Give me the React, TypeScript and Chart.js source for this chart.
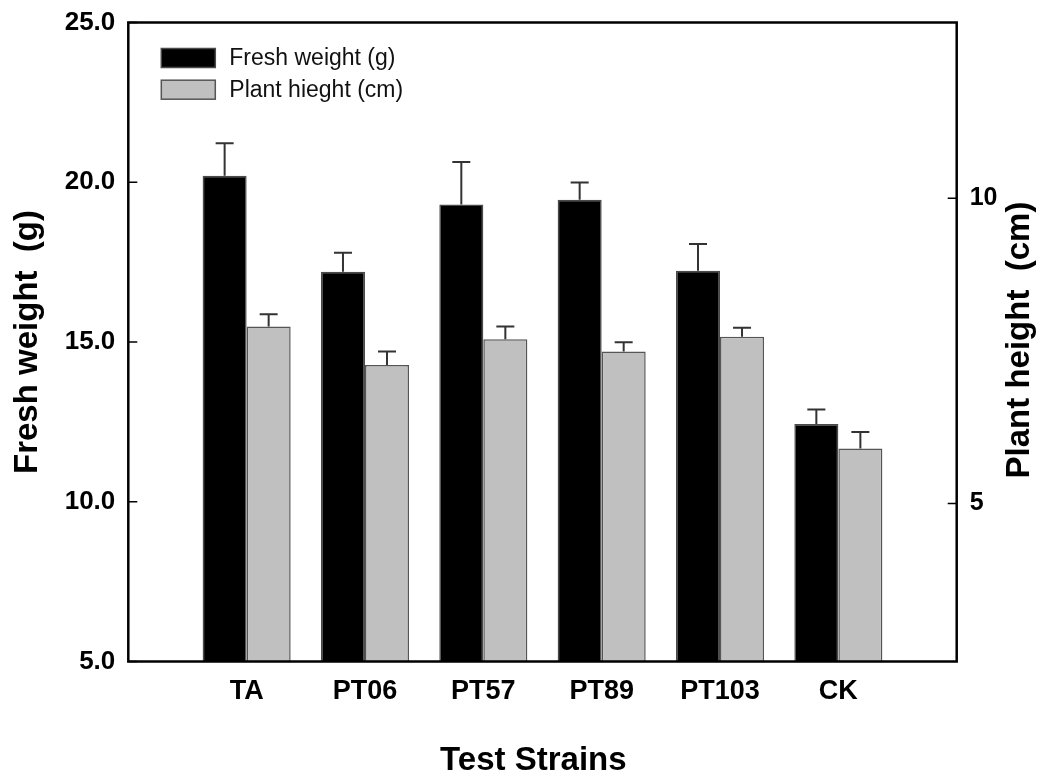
import React, { useEffect, useRef } from "react";
import { Chart, registerables } from "chart.js";

Chart.register(...registerables);

const FONT = "'Liberation Sans', Arial, Helvetica, sans-serif";

const categories = ["TA", "PT06", "PT57", "PT89", "PT103", "CK"];
const freshWeight = [20.2, 17.2, 19.3, 19.45, 17.23, 12.43];
const freshWeightErr = [1.02, 0.59, 1.33, 0.54, 0.84, 0.46];
const plantHeight = [7.9, 7.27, 7.69, 7.49, 7.73, 5.9];
const plantHeightErr = [0.2, 0.22, 0.21, 0.15, 0.15, 0.27];
const leftTicks = [5, 10, 15, 20, 25];
const rightTicks = [5, 10];
const seriesLabels = ["Fresh weight (g)", "Plant hieght (cm)"];
const seriesColors = ["#000000", "#c0c0c0"];
const seriesBorders = ["#4a4a4a", "#555555"];
const rightTitle = "Plant height  (cm)";

const errorBarPlugin = {
  id: "errorBars",
  afterDatasetsDraw(chart: any) {
    const ctx = chart.ctx;
    chart.data.datasets.forEach((ds: any, i: number) => {
      const meta = chart.getDatasetMeta(i);
      const scale = chart.scales[ds.yAxisID];
      meta.data.forEach((bar: any, j: number) => {
        const v = ds.data[j];
        const e = ds.errors ? ds.errors[j] : null;
        if (v == null || e == null) return;
        const yTop = scale.getPixelForValue(v + e);
        const x = bar.x;
        ctx.save();
        ctx.strokeStyle = "#333";
        ctx.lineWidth = 2;
        ctx.beginPath();
        ctx.moveTo(x, bar.y);
        ctx.lineTo(x, yTop);
        ctx.moveTo(x - 9, yTop);
        ctx.lineTo(x + 9, yTop);
        ctx.stroke();
        ctx.restore();
      });
    });
  },
};

const framePlugin = {
  id: "frame",
  afterDraw(chart: any) {
    const ctx = chart.ctx;
    const { left, right, top, bottom } = chart.chartArea;
    ctx.save();
    ctx.strokeStyle = "#000";
    ctx.lineWidth = 2.5;
    ctx.strokeRect(left, top, right - left, bottom - top);
    ctx.lineWidth = 1.5;
    ctx.beginPath();
    const yl = chart.scales.y;
    leftTicks.forEach((v) => {
      const p = yl.getPixelForValue(v);
      ctx.moveTo(left, p);
      ctx.lineTo(left + 9, p);
    });
    const yr = chart.scales.y1;
    rightTicks.forEach((v) => {
      const p = yr.getPixelForValue(v);
      ctx.moveTo(right - 9, p);
      ctx.lineTo(right, p);
    });
    ctx.stroke();

    // right axis title, reading bottom to top
    ctx.save();
    ctx.translate(chart.width - 21, (top + bottom) / 2 - 2);
    ctx.rotate(-Math.PI / 2);
    ctx.font = `bold 33px ${FONT}`;
    ctx.fillStyle = "#000";
    ctx.textAlign = "center";
    ctx.textBaseline = "middle";
    ctx.fillText(rightTitle, 0, 0);
    ctx.restore();

    // legend
    const lx = left + 33;
    const ly = top + 26;
    ctx.font = `23px ${FONT}`;
    ctx.textBaseline = "middle";
    ctx.textAlign = "left";
    seriesLabels.forEach((lab, i) => {
      const y = ly + i * 31.7;
      ctx.fillStyle = seriesColors[i];
      ctx.fillRect(lx, y, 54, 19);
      ctx.strokeStyle = seriesBorders[i];
      ctx.lineWidth = 1.5;
      ctx.strokeRect(lx, y, 54, 19);
      ctx.fillStyle = "#111";
      ctx.fillText(lab, lx + 68, y + 10);
    });
    ctx.restore();
  },
};

export default function App() {
  const canvasRef = useRef<HTMLCanvasElement | null>(null);

  useEffect(() => {
    if (!canvasRef.current) return;
    Chart.defaults.font.family = FONT;
    Chart.defaults.color = "#000";
    const labels = ["", ...categories, ""];
    const chart = new Chart(canvasRef.current, {
      type: "bar",
      data: {
        labels,
        datasets: [
          {
            label: seriesLabels[0],
            data: [null, ...freshWeight, null],
            errors: [null, ...freshWeightErr, null],
            backgroundColor: seriesColors[0],
            borderColor: seriesBorders[0],
            borderWidth: 1.5,
            yAxisID: "y",
            categoryPercentage: 0.744,
            barPercentage: 1,
          } as any,
          {
            label: seriesLabels[1],
            data: [null, ...plantHeight, null],
            errors: [null, ...plantHeightErr, null],
            backgroundColor: seriesColors[1],
            borderColor: seriesBorders[1],
            borderWidth: 1.5,
            yAxisID: "y1",
            categoryPercentage: 0.744,
            barPercentage: 1,
          } as any,
        ],
      },
      options: {
        animation: false,
        responsive: true,
        maintainAspectRatio: false,
        layout: { padding: { top: 22.5, left: 0, right: 0, bottom: 0 } },
        plugins: {
          legend: { display: false },
          tooltip: { enabled: false },
        },
        scales: {
          x: {
            type: "category",
            offset: false,
            grid: { display: false, drawTicks: false },
            border: { display: false },
            ticks: {
              font: { family: FONT, size: 27, weight: "bold" },
              padding: 14,
              maxRotation: 0,
              autoSkip: false,
              color: "#000",
            },
            title: {
              display: true,
              text: "Test Strains\u00a0\u00a0",
              font: { family: FONT, size: 33, weight: "bold", lineHeight: 1 },
              padding: { top: 0, bottom: 0 },
              color: "#000",
            },
            afterFit(scale: any) {
              scale.height = 115.5;
              scale.paddingLeft = 0;
              scale.paddingRight = 0;
            },
          },
          y: {
            type: "linear",
            position: "left",
            min: 5,
            max: 25,
            grid: { display: false, drawTicks: false },
            border: { display: false },
            afterBuildTicks(scale: any) {
              scale.ticks = leftTicks.map((v) => ({ value: v }));
            },
            ticks: {
              font: { family: FONT, size: 26, weight: "bold" },
              padding: 13,
              color: "#000",
              callback: (v: any) => Number(v).toFixed(1),
            },
            title: {
              display: true,
              text: "Fresh weight  (g)",
              font: { family: FONT, size: 33, weight: "bold", lineHeight: 1 },
              padding: { top: 11, bottom: 0 },
              color: "#000",
            },
            afterFit(scale: any) {
              scale.width = 128.3;
              scale.paddingTop = 0;
              scale.paddingBottom = 0;
            },
          },
          y1: {
            type: "linear",
            position: "right",
            min: 2.41,
            max: 12.88,
            grid: { display: false, drawTicks: false },
            border: { display: false },
            afterBuildTicks(scale: any) {
              scale.ticks = rightTicks.map((v) => ({ value: v }));
            },
            ticks: {
              font: { family: FONT, size: 25, weight: "bold" },
              padding: 13,
              color: "#000",
              callback: (v: any) => String(v),
            },
            title: { display: false },
            afterFit(scale: any) {
              scale.width = 84.3;
              scale.paddingTop = 0;
              scale.paddingBottom = 0;
            },
          },
        },
      } as any,
      plugins: [errorBarPlugin, framePlugin],
    });
    return () => chart.destroy();
  }, []);

  return (
    <div
      style={{
        position: "fixed",
        left: 0,
        top: 0,
        width: 1041,
        height: 777,
        background: "#fff",
      }}
    >
      <canvas ref={canvasRef} />
    </div>
  );
}
